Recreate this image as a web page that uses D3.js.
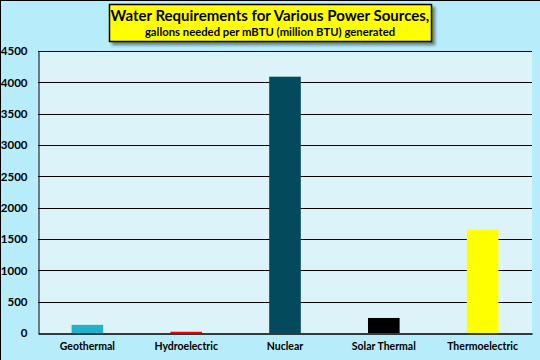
<!DOCTYPE html>
<html><head><meta charset="utf-8">
<script src="https://cdn.jsdelivr.net/npm/d3@7"></script>
<style>html,body{margin:0;padding:0;background:#B7ECFA;}svg{display:block;}</style>
</head><body>
<script>
const categories = ["Geothermal","Hydroelectric","Nuclear","Solar Thermal","Thermoelectric"];
const values = [130, 20, 4090, 240, 1650];
const colors = ["#22B1CA","#FF0000","#034A5C","#000000","#FFFF00"];
const yTicks = [0,500,1000,1500,2000,2500,3000,3500,4000,4500];
const titleLines = ["Water Requirements for Various Power Sources,","gallons needed  per mBTU (million BTU) generated"];

const W=540,H=360;
const m={l:38,r:8,t:51,b:27};
const svg=d3.select("body").append("svg").attr("width",W).attr("height",H);
svg.append("rect").attr("width",W).attr("height",H).attr("fill","#B7ECFA");
svg.append("line").attr("x1",0.5).attr("x2",0.5).attr("y1",0).attr("y2",H).attr("stroke","#000");
svg.append("line").attr("x1",0).attr("x2",W).attr("y1",0.5).attr("y2",0.5).attr("stroke","#000");

const x=d3.scaleBand().domain(categories).range([m.l,W-m.r]).paddingInner(0.68).paddingOuter(0.34);
const y=d3.scaleLinear().domain([0,4500]).range([H-m.b,m.t]);

svg.append("rect").attr("x",m.l).attr("y",m.t).attr("width",W-m.r-m.l).attr("height",H-m.b-m.t).attr("fill","#DCF4F9");

const font="Lato, 'Open Sans', sans-serif";
// gridlines
svg.append("g").selectAll("line").data(yTicks.filter(d=>d>0)).join("line")
 .attr("x1",m.l).attr("x2",W-m.r).attr("y1",d=>Math.round(y(d))+0.5).attr("y2",d=>Math.round(y(d))+0.5)
 .attr("stroke","#000").attr("stroke-width",1);

// bars
svg.append("g").selectAll("rect").data(values).join("rect")
 .attr("x",(d,i)=>x(categories[i])).attr("width",x.bandwidth())
 .attr("y",d=>y(d)).attr("height",d=>y(0)-y(d)).attr("fill",(d,i)=>colors[i]);

// axes
const yAxis=d3.axisLeft(y).tickValues(yTicks).tickFormat(d3.format("d")).tickSize(0).tickPadding(11);
const gy=svg.append("g").attr("transform",`translate(${m.l+0.5},0)`).call(yAxis);
gy.select(".domain").attr("stroke","#000");
gy.selectAll("text").attr("font-family",font).attr("font-weight","bold").attr("font-size","11.5px").attr("fill","#000");

const xAxis=d3.axisBottom(x).tickSize(0).tickPadding(9);
const gx=svg.append("g").attr("transform",`translate(0,${Math.round(y(0))+0.5})`).call(xAxis);
gx.select(".domain").attr("stroke","#000").attr("stroke-width",1.5);
gx.selectAll("text").attr("font-family",font).attr("font-weight","bold").attr("font-size","10.5px").attr("fill","#000");

// title box
const defs=svg.append("defs");
const f=defs.append("filter").attr("id","sh").attr("x","-10%").attr("y","-20%").attr("width","130%").attr("height","160%");
f.append("feGaussianBlur").attr("in","SourceAlpha").attr("stdDeviation",1.5);
f.append("feOffset").attr("dx",3).attr("dy",3).attr("result","o");
f.append("feComponentTransfer").append("feFuncA").attr("type","linear").attr("slope",0.45);
const mg=f.append("feMerge");mg.append("feMergeNode");mg.append("feMergeNode").attr("in","SourceGraphic");
svg.append("rect").attr("x",109.5).attr("y",4.5).attr("width",322).attr("height",37)
 .attr("fill","#FFFF00").attr("stroke","#000").attr("stroke-width",1.5).attr("filter","url(#sh)");
svg.append("text").attr("x",270).attr("y",21).attr("text-anchor","middle").attr("font-family",font)
 .attr("font-weight","bold").attr("font-size","15px").attr("fill","#000").text(titleLines[0]);
svg.append("text").attr("x",270).attr("y",36).attr("text-anchor","middle").attr("font-family",font)
 .attr("font-weight","bold").attr("font-size","11.3px").attr("fill","#000").text(titleLines[1]);
</script>
</body></html>
